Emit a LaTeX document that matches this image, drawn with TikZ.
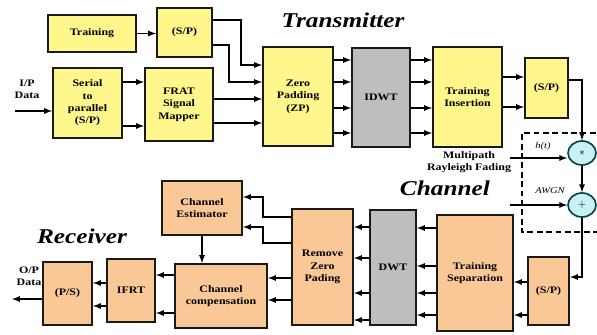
\documentclass[tikz,border=0pt]{standalone}
\usepackage{fontspec}
\setmainfont{Liberation Serif}[FakeStretch=1.2]
\usetikzlibrary{arrows,shapes.geometric}

\definecolor{txfill}{RGB}{255,247,140}
\definecolor{rxfill}{RGB}{249,200,150}
\definecolor{dwtfill}{RGB}{190,190,190}
\definecolor{sumfill}{RGB}{200,240,245}
\definecolor{sumline}{RGB}{0,70,70}

\begin{document}
\begin{tikzpicture}[x=0.03cm, y=-0.03cm, >=latex,
    blk/.style={draw=black!90, line width=1.7pt, inner sep=1pt, align=center,
        font=\fontsize{8.5}{10.5}\selectfont\bfseries},
    txblk/.style={blk, fill=txfill},
    rxblk/.style={blk, fill=rxfill},
    dwtblk/.style={blk, fill=dwtfill},
    sz/.style 2 args={minimum width=#1*0.03cm, minimum height=#2*0.03cm},
    sumnode/.style={ellipse, draw=sumline, line width=1.4pt, fill=sumfill,
        minimum width=0.84cm, minimum height=0.72cm, inner sep=0pt, font=\bfseries\small},
    arr/.style={->, line width=1.3pt},
    lbl/.style={align=center, font=\fontsize{8.5}{10}\selectfont\bfseries},
    smlbl/.style={font=\fontsize{7.5}{9}\selectfont\itshape},
    title/.style={font=\fontsize{18}{20}\selectfont\bfseries\itshape},
    chbox/.style={line width=1.6pt, dash pattern=on 5pt off 3pt}]
    \useasboundingbox (0,0) rectangle (597,334);

    % Transmitter
    \node[title] (txtitle) at (343,20) {Transmitter};
    \node[txblk, sz={88}{37}] (train) at (92,33.5) {Training};
    \node[txblk, sz={55}{49}] (spT) at (184.5,32.5) {(S/P)};
    \node[txblk, sz={69}{70}] (s2p) at (87.5,103) {Serial\\to\\parallel\\(S/P)};
    \node[txblk, sz={68}{73}] (frat) at (179,104.5) {FRAT\\Signal\\Mapper};
    \node[txblk, sz={70}{99}] (zp) at (298,96.5) {Zero\\Padding\\(ZP)};
    \node[dwtblk, sz={58}{99}] (idwt) at (381,97.5) {IDWT};
    \node[txblk, sz={69}{100}] (tins) at (467.5,97) {Training\\Insertion};
    \node[txblk, sz={43}{60}] (spR) at (546.5,88) {(S/P)};
    \node[lbl] (ipdata) at (27,89) {I/P\\Data};
    \coordinate (ipin) at (15,111);

    \draw[arr] (ipin) -- (s2p.west |- ipin);
    \draw[arr] (train.east) -- (train.east -| spT.west);
    \draw[arr] (spT.east |- 0,20) -- ++(28,0) |- (zp.west |- 0,65);
    \draw[arr] (spT.east |- 0,45) -- ++(16,0) |- (zp.west |- 0,82);
    \foreach \y in {82,126}
        \draw[arr] (s2p.east |- 0,\y) -- (frat.west |- 0,\y);
    \foreach \y in {99,123}
        \draw[arr] (frat.east |- 0,\y) -- (zp.west |- 0,\y);
    \foreach \y in {60,82,108,133} {
        \draw[arr] (zp.east |- 0,\y) -- (idwt.west |- 0,\y);
        \draw[arr] (idwt.east |- 0,\y) -- (tins.west |- 0,\y);
    }
    \foreach \y in {77,107}
        \draw[arr] (tins.east |- 0,\y) -- (spR.west |- 0,\y);

    % Channel
    \draw[chbox] (605,133) -- (522,133) -- (522,232) -- (605,232);
    \node[sumnode] (mult) at (582,153) {$\ast$};
    \node[sumnode] (plus) at (582,205) {$+$};
    \node[lbl] (fading) at (469,162) {Multipath\\Rayleigh Fading};
    \node[smlbl] (hlbl) at (543,146) {h(t)};
    \node[smlbl] (awgn) at (550,191) {AWGN};
    \node[title] (chtitle) at (445,188) {Channel};
    \coordinate (hin) at (510,158);
    \coordinate (nin) at (510,205);

    \draw[arr] (spR.east |- 0,80) -| (mult.north);
    \draw[arr] (hin) -- (mult.west |- hin);
    \draw[arr] (mult) -- (plus);
    \draw[arr] (nin) -- (plus.west);

    % Receiver
    \node[title] (rxtitle) at (82,236) {Receiver};
    \node[lbl] (opdata) at (29,276) {O/P\\Data};
    \node[rxblk, sz={76}{116}] (tsep) at (475,273) {Training\\Separation};
    \node[dwtblk, sz={46}{115}] (dwt) at (393,267.5) {DWT};
    \node[rxblk, sz={61}{116}] (rzp) at (322.5,267) {Remove\\Zero\\Pading};
    \node[rxblk, sz={41}{68}] (psR) at (548.5,291) {(S/P)};
    \node[rxblk, sz={80}{54}] (cest) at (202,208) {Channel\\Estimator};
    \node[rxblk, sz={92}{64}] (ccomp) at (221,296) {Channel\\compensation};
    \node[rxblk, sz={48}{63}] (ifrt) at (131,290.5) {IFRT};
    \node[rxblk, sz={49}{63}] (psL) at (67.5,293.5) {(P/S)};
    \coordinate (opout) at (12,299);

    \draw[arr] (plus.south) |- (psR.east |- 0,277);
    \foreach \y in {282,315}
        \draw[arr] (psR.west |- 0,\y) -- (tsep.east |- 0,\y);
    \foreach \y in {228,266,293,315}
        \draw[arr] (tsep.west |- 0,\y) -- (dwt.east |- 0,\y);
    \foreach \y in {227,258,293,320}
        \draw[arr] (dwt.west |- 0,\y) -- (rzp.east |- 0,\y);
    \draw[arr] (rzp.west |- 0,217) -- ++(-28,0) |- (cest.east |- 0,197);
    \draw[arr] (rzp.west |- 0,243) -- ++(-28,0) |- (cest.east |- 0,227);
    \foreach \y in {278,300}
        \draw[arr] (rzp.west |- 0,\y) -- (ccomp.east |- 0,\y);
    \draw[arr] (cest.south) -- (cest.south |- ccomp.north);
    \foreach \y in {275,313}
        \draw[arr] (ccomp.west |- 0,\y) -- (ifrt.east |- 0,\y);
    \foreach \y in {283,306}
        \draw[arr] (ifrt.west |- 0,\y) -- (psL.east |- 0,\y);
    \draw[arr] (psL.west |- opout) -- (opout);

\end{tikzpicture}
\end{document}
